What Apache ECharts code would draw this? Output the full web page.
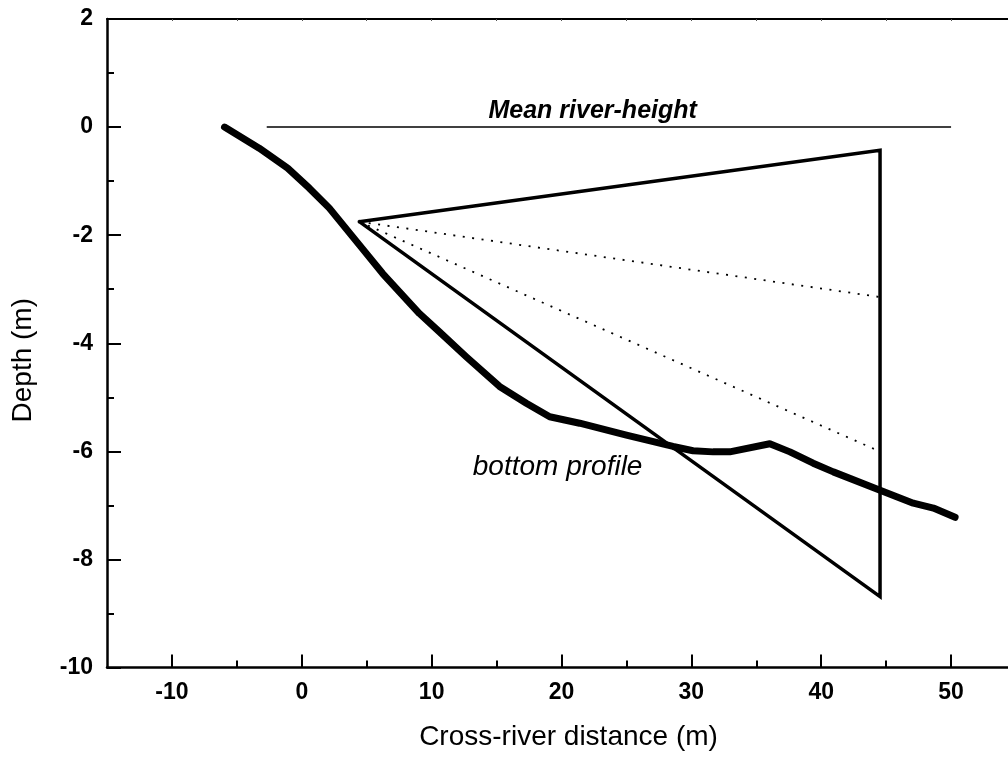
<!DOCTYPE html>
<html>
<head>
<meta charset="utf-8">
<script src="https://cdn.jsdelivr.net/npm/echarts@6/dist/echarts.min.js"></script>
<style>
  html, body { margin: 0; padding: 0; background: #fff; overflow: hidden; width: 1008px; height: 759px; }
  #chart { width: 1030px; height: 759px; }
</style>
</head>
<body>
<div id="chart"></div>
<script>
// ---- data ----
const profileX = [-5.95, -3.28, -1.09, 0.58, 2.12, 4.43, 6.23, 7.52, 9.06, 10.6, 12.66, 15.23, 17.29, 19.09, 21.4, 25.0, 28.59, 30.13, 31.67, 32.96, 36.04, 37.59, 39.38, 40.93, 44.53, 47.09, 48.64, 50.31];
const profileY = [0, -0.39, -0.76, -1.13, -1.5, -2.18, -2.71, -3.05, -3.45, -3.79, -4.25, -4.8, -5.11, -5.36, -5.48, -5.7, -5.91, -5.99, -6.01, -6.01, -5.86, -6.01, -6.22, -6.38, -6.72, -6.96, -7.05, -7.22];
const triangleX = [4.43, 44.53, 44.53, 4.43];
const triangleY = [-1.75, -0.43, -8.69, -1.75];
const dotted1X = [4.43, 44.4];
const dotted1Y = [-1.75, -3.14];
const dotted2X = [4.43, 44.3];
const dotted2Y = [-1.75, -5.98];
const waterX = [-2.7, 50.0];
const waterY = [0, 0];
const xMajorTicks = [-10, 0, 10, 20, 30, 40, 50];
const xMinorTicks = [-5, 5, 15, 25, 35, 45];
const xTopTicks = [-10, -5, 0, 5, 10, 15, 20, 25, 30, 35, 40, 45, 50, 55];
const yMajorTicks = [-10, -8, -6, -4, -2, 0, 2];
const yMinorTicks = [-9, -7, -5, -3, -1, 1];
const meanLabelPos = [22.4, 0.06];
const bottomLabelPos = [19.7, -6.56];

const zip = (xs, ys) => xs.map((x, i) => [x, ys[i]]);

const chart = echarts.init(document.getElementById('chart'), null, { renderer: 'canvas' });
const black = '#000000';
const FONT = 'Liberation Sans, Arial, Helvetica, sans-serif';
const tickFont = { color: black, fontFamily: FONT, fontWeight: 'bold', fontSize: 23 };

chart.setOption({
  animation: false,
  backgroundColor: '#fff',
  grid: { left: 107, top: 19, right: 14, bottom: 91.5, containLabel: false },
  xAxis: [
    {
      type: 'value', position: 'bottom', min: -15, max: 55,
      axisLine: { show: true, onZero: false, lineStyle: { color: black, width: 2.5 } },
      axisTick: { show: true, inside: true, length: 13, customValues: xMajorTicks, lineStyle: { color: black, width: 2 } },
      axisLabel: { show: true, customValues: xMajorTicks, margin: 14, ...tickFont },
      splitLine: { show: false },
      name: 'Cross-river distance (m)', nameLocation: 'middle', nameGap: 56,
      nameTextStyle: { color: black, fontFamily: FONT, fontSize: 28, padding: [0, 0, 0, 14] }
    },
    {
      type: 'value', position: 'bottom', min: -15, max: 55,
      axisLine: { show: false, onZero: false },
      axisTick: { show: true, inside: true, length: 7, customValues: xMinorTicks, lineStyle: { color: black, width: 2 } },
      axisLabel: { show: false },
      splitLine: { show: false }
    },
    {
      type: 'value', position: 'top', min: -15, max: 55,
      axisLine: { show: true, onZero: false, lineStyle: { color: black, width: 2 } },
      axisTick: { show: true, inside: true, length: 2, customValues: xTopTicks, lineStyle: { color: '#555', width: 1 } },
      axisLabel: { show: false },
      splitLine: { show: false }
    }
  ],
  yAxis: [
    {
      type: 'value', position: 'left', min: -10, max: 2, interval: 2,
      axisLine: { show: true, onZero: false, lineStyle: { color: black, width: 2.5 } },
      axisTick: { show: true, inside: true, length: 14, customValues: yMajorTicks, lineStyle: { color: black, width: 2 } },
      axisLabel: { show: true, customValues: yMajorTicks, margin: 14, ...tickFont },
      splitLine: { show: false },
      name: 'Depth (m)', nameLocation: 'middle', nameGap: 70, nameRotate: 90,
      nameTextStyle: { color: black, fontFamily: FONT, fontSize: 28, padding: [0, 34, 0, 0] }
    },
    {
      type: 'value', position: 'left', min: -10, max: 2,
      axisLine: { show: false, onZero: false },
      axisTick: { show: true, inside: true, length: 7, customValues: yMinorTicks, lineStyle: { color: black, width: 2 } },
      axisLabel: { show: false },
      splitLine: { show: false }
    }
  ],
  series: [
    {
      name: 'Mean river-height line', type: 'line',
      data: zip(waterX, waterY), symbol: 'none', silent: true,
      lineStyle: { color: black, width: 1.5 }
    },
    {
      name: 'dotted upper', type: 'line', data: zip(dotted1X, dotted1Y), symbol: 'none', silent: true,
      lineStyle: { color: black, width: 1.8, type: [2, 7.5] }
    },
    {
      name: 'dotted lower', type: 'line', data: zip(dotted2X, dotted2Y), symbol: 'none', silent: true,
      lineStyle: { color: black, width: 1.8, type: [2, 7.5] }
    },
    {
      name: 'triangle', type: 'line', data: zip(triangleX, triangleY), symbol: 'none', silent: true,
      lineStyle: { color: black, width: 3.5, join: 'miter', cap: 'round' }
    },
    {
      name: 'bottom profile', type: 'line', data: zip(profileX, profileY), symbol: 'none', silent: true,
      lineStyle: { color: black, width: 7, cap: 'round', join: 'round' }
    },
    {
      name: 'labels', type: 'scatter', symbolSize: 0, silent: true,
      itemStyle: { color: black, opacity: 1 },
      label: { show: true, position: 'top', distance: 0, color: black, opacity: 1, textBorderWidth: 0, fontFamily: FONT },
      data: [
        { value: meanLabelPos, label: { formatter: 'Mean river-height', color: black, fontStyle: 'italic', fontWeight: 'bold', fontSize: 25 } },
        { value: bottomLabelPos, label: { formatter: 'bottom profile', color: black, fontStyle: 'italic', fontWeight: 'normal', fontSize: 28 } }
      ]
    }
  ]
});
</script>
</body>
</html>
